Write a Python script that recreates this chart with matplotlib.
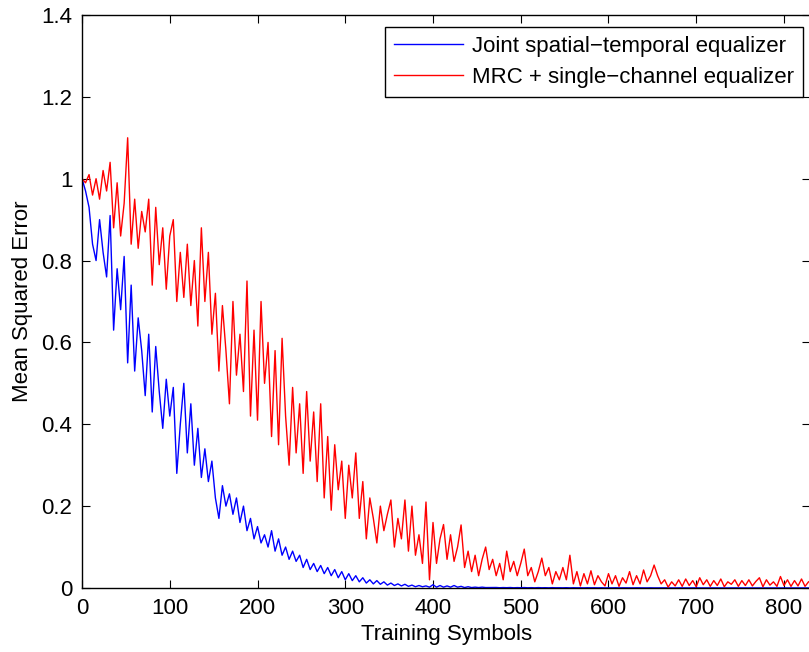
import matplotlib.pyplot as plt
from matplotlib.ticker import FuncFormatter

symbols = list(range(0, 829, 4))

joint_mse = [
    1.00, 0.97, 0.93, 0.84, 0.80, 0.90, 0.82, 0.76, 0.91, 0.63,
    0.78, 0.68, 0.81, 0.55, 0.74, 0.53, 0.66, 0.58, 0.47, 0.62,
    0.43, 0.59, 0.48, 0.39, 0.51, 0.42, 0.49, 0.28, 0.40, 0.50,
    0.33, 0.45, 0.30, 0.39, 0.27, 0.34, 0.26, 0.31, 0.22, 0.17,
    0.25, 0.20, 0.23, 0.18, 0.22, 0.16, 0.20, 0.14, 0.17, 0.12,
    0.15, 0.11, 0.13, 0.10, 0.14, 0.09, 0.12, 0.08, 0.10, 0.07,
    0.09, 0.065, 0.08, 0.05, 0.07, 0.045, 0.06, 0.04, 0.055, 0.035,
    0.05, 0.03, 0.045, 0.025, 0.04, 0.02, 0.035, 0.018, 0.03, 0.015,
    0.025, 0.012, 0.02, 0.01, 0.018, 0.009, 0.015, 0.007, 0.012, 0.006,
    0.01, 0.005, 0.009, 0.004, 0.007, 0.003, 0.006, 0.003, 0.005, 0.002,
    0.008, 0.002, 0.006, 0.002, 0.005, 0.002, 0.006, 0.002, 0.004, 0.001,
    0.003, 0.001, 0.002, 0.001, 0.002, 0.001, 0.001, 0.0008, 0.0012, 0.0006,
    0.001, 0.0007, 0.0011, 0.0005, 0.0009, 0.0006, 0.001, 0.0005, 0.0008, 0.0004,
    0.0009, 0.0005, 0.0007, 0.0004, 0.0008, 0.0005, 0.0006, 0.0004, 0.0007, 0.0003,
    0.0006, 0.0004, 0.0005, 0.0003, 0.0006, 0.0004, 0.0005, 0.0003, 0.0005, 0.0002,
    0.0004, 0.0003, 0.0005, 0.0002, 0.0004, 0.0003, 0.0004, 0.0002, 0.0004, 0.0003,
    0.0003, 0.0002, 0.0004, 0.0002, 0.0003, 0.0002, 0.0003, 0.0002, 0.0003, 0.0001,
    0.0003, 0.0002, 0.0002, 0.0001, 0.0003, 0.0002, 0.0002, 0.0001, 0.0002, 0.0001,
    0.0002, 0.0001, 0.0002, 0.0001, 0.0002, 0.0001, 0.0002, 0.0001, 0.0001, 0.0001,
    0.0002, 0.0001, 0.0001, 0.0002, 0.0001, 0.0001, 0.0002, 0.0001, 0.0001, 0.0001,
    0.0001, 0.0001, 0.0002, 0.0001, 0.0001, 0.0001, 0.0001, 0.0001,
]

mrc_mse = [
    1.00, 0.99, 1.01, 0.96, 1.00, 0.95, 1.02, 0.97, 1.04, 0.88,
    0.99, 0.86, 0.94, 1.10, 0.84, 0.95, 0.83, 0.92, 0.87, 0.95,
    0.74, 0.93, 0.79, 0.88, 0.73, 0.86, 0.90, 0.70, 0.82, 0.71,
    0.84, 0.69, 0.80, 0.64, 0.88, 0.70, 0.82, 0.62, 0.72, 0.53,
    0.69, 0.58, 0.45, 0.70, 0.52, 0.62, 0.48, 0.75, 0.42, 0.63,
    0.41, 0.70, 0.50, 0.60, 0.37, 0.58, 0.35, 0.61, 0.42, 0.30,
    0.49, 0.33, 0.45, 0.28, 0.48, 0.31, 0.43, 0.26, 0.45, 0.22,
    0.37, 0.19, 0.35, 0.24, 0.31, 0.17, 0.30, 0.22, 0.33, 0.17,
    0.26, 0.12, 0.22, 0.17, 0.11, 0.20, 0.14, 0.18, 0.215, 0.10,
    0.17, 0.12, 0.215, 0.09, 0.20, 0.08, 0.13, 0.06, 0.21, 0.02,
    0.16, 0.06, 0.12, 0.155, 0.07, 0.13, 0.065, 0.10, 0.154, 0.05,
    0.09, 0.04, 0.08, 0.03, 0.07, 0.10, 0.045, 0.07, 0.03, 0.06,
    0.02, 0.09, 0.04, 0.065, 0.03, 0.06, 0.095, 0.03, 0.05, 0.015,
    0.04, 0.073, 0.03, 0.05, 0.01, 0.04, 0.02, 0.05, 0.02, 0.08,
    0.01, 0.04, 0.005, 0.035, 0.01, 0.042, 0.008, 0.03, 0.015, 0.005,
    0.035, 0.01, 0.03, 0.004, 0.025, 0.012, 0.04, 0.008, 0.03, 0.01,
    0.044, 0.015, 0.03, 0.056, 0.03, 0.01, 0.02, 0.002, 0.015, 0.005,
    0.02, 0.004, 0.022, 0.006, 0.018, 0.003, 0.025, 0.008, 0.02, 0.004,
    0.018, 0.006, 0.022, 0.003, 0.015, 0.009, 0.02, 0.004, 0.018, 0.006,
    0.02, 0.005, 0.016, 0.025, 0.003, 0.02, 0.007, 0.015, 0.004, 0.028,
    0.006, 0.02, 0.004, 0.018, 0.005, 0.022, 0.004, 0.015,
]

labels = ["Joint spatial\u2212temporal equalizer", "MRC + single\u2212channel equalizer"]

plt.rcParams["font.family"] = ["Liberation Sans", "DejaVu Sans"]
plt.rcParams["font.size"] = 16

fig = plt.figure(figsize=(8.09, 6.52), dpi=100)
ax = fig.add_axes([0.1014, 0.0982, 0.9002, 0.8788])

ax.plot(symbols, joint_mse, color=(0, 0, 1), lw=1.0, label=labels[0])
ax.plot(symbols, mrc_mse, color=(1, 0, 0), lw=1.0, label=labels[1])

ax.set_xlim(0, 830)
ax.set_ylim(0, 1.4)
ax.set_xticks(range(0, 801, 100))
ax.set_yticks([0, 0.2, 0.4, 0.6, 0.8, 1.0, 1.2, 1.4])
ax.yaxis.set_major_formatter(FuncFormatter(lambda v, p: f"{v:g}"))
ax.tick_params(direction="in", length=6, width=0.8, top=True, right=True,
               labelsize=16, pad=7)
for s in ax.spines.values():
    s.set_linewidth(1.0)

ax.set_xlabel("Training Symbols", fontsize=16, labelpad=4)
ax.set_ylabel("Mean Squared Error", fontsize=16, labelpad=6)

leg = ax.legend(loc="upper right", bbox_to_anchor=(0.99, 0.979), borderaxespad=0,
                fancybox=False, edgecolor="black", framealpha=1, fontsize=16,
                handlelength=3.1, borderpad=0.4, labelspacing=0.45,
                handletextpad=0.4)
leg.get_frame().set_linewidth(1.0)

fig.savefig("out.png", dpi=100)
